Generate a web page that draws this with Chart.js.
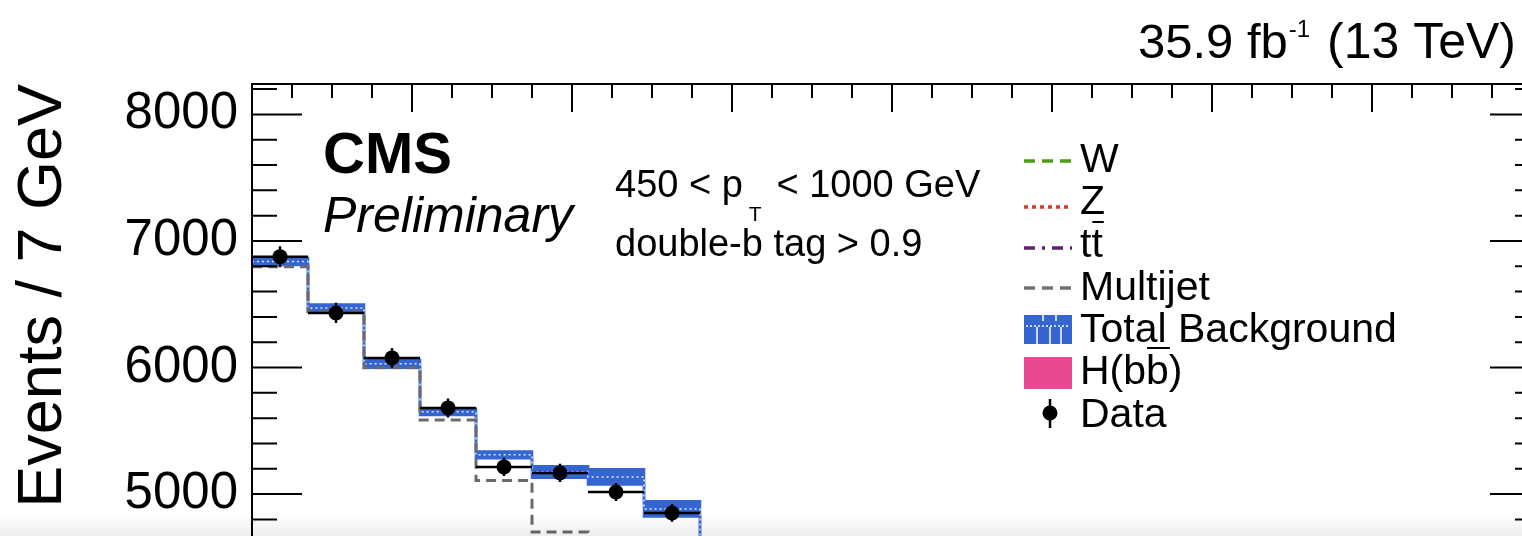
<!DOCTYPE html>
<html>
<head>
<meta charset="utf-8">
<script src="https://cdn.jsdelivr.net/npm/chart.js@4.4.1/dist/chart.umd.min.js"></script>
<style>
  html, body { margin: 0; padding: 0; background: #fff; overflow: hidden; }
  #wrap { position: relative; width: 1522px; height: 536px; overflow: hidden; }
  #chart { position: absolute; left: 0; top: 0; }
  #shade { position: absolute; left: 0; bottom: 0; width: 1522px; height: 22px;
           background: linear-gradient(rgba(0,0,0,0), rgba(0,0,0,0.07)); }
</style>
</head>
<body>
<div id="wrap">
  <canvas id="chart" width="1600" height="700"></canvas>
  <div id="shade"></div>
</div>
<script>
// soft-drop jet mass bins (GeV), 7 GeV wide
const binLow = [40, 47, 54, 61, 68, 75, 82, 89, 96];
const binWidth = 7;

// events per bin
const dataCounts = [6876, 6431, 6076, 5681, 5215, 5167, 5017, 4851, 4520];
const dataErr = [83, 80, 78, 75, 72, 72, 71, 70, 67];
const totalBkg = [6838, 6470, 6029, 5650, 5310, 5175, 5136, 4883, 4560];
const totalBkgErr = [28, 28, 30, 25, 27, 45, 60, 60, 55];
const multijet = [6797, 6440, 5998, 5586, 5107, 4700, 4560, 4400, 4200];

// axis
const yMin = 3800;
const yMax = 8240;
const yLabelStep = 1000;
const yMinorStep = 200;
const xMin = 40;
const xMax = 201;
const xMinorStep = 5;
const xMajorStep = 20;

const legendLabels = ['W', 'Z', 'tt', 'Multijet', 'Total Background', 'H(bb)', 'Data'];

const BLUE = '#3465d0';
const FONT = '"Liberation Sans", Arial, Helvetica, sans-serif';

const bkgUp = totalBkg.map((v, i) => v + totalBkgErr[i]);
const bkgDown = totalBkg.map((v, i) => v - totalBkgErr[i]);

// histogram points at bin edges, drawn with stepped lines
function steps(vals) {
  const pts = vals.map((v, i) => ({ x: binLow[i], y: v }));
  pts.push({ x: binLow[vals.length - 1] + binWidth, y: vals[vals.length - 1] });
  return pts;
}

function tickList(from, to, step) {
  const out = [];
  for (let v = Math.ceil(from / step) * step; v <= to; v += step) out.push({ value: v });
  return out;
}

const errorBars = {
  id: 'errorBars',
  afterDatasetsDraw(chart) {
    const { ctx, chartArea: a, scales: { x, y } } = chart;
    ctx.save();
    ctx.beginPath();
    ctx.rect(a.left, a.top, a.right - a.left, a.bottom - a.top);
    ctx.clip();
    ctx.strokeStyle = '#000';
    ctx.lineWidth = 2.5;
    ctx.beginPath();
    dataCounts.forEach((v, i) => {
      const py = y.getPixelForValue(v);
      const px = x.getPixelForValue(binLow[i] + binWidth / 2);
      ctx.moveTo(x.getPixelForValue(binLow[i]), py);
      ctx.lineTo(x.getPixelForValue(binLow[i] + binWidth), py);
      ctx.moveTo(px, y.getPixelForValue(v + dataErr[i]));
      ctx.lineTo(px, y.getPixelForValue(v - dataErr[i]));
    });
    ctx.stroke();
    ctx.restore();
  }
};

// ROOT-style frame with ticks pointing inwards
const frame = {
  id: 'frame',
  afterDraw(chart) {
    const { ctx, chartArea: a, scales: { x, y } } = chart;
    ctx.save();
    ctx.strokeStyle = '#000';
    ctx.lineWidth = 2;
    ctx.beginPath();
    y.ticks.forEach(t => {
      const py = y.getPixelForValue(t.value);
      const len = t.value % yLabelStep === 0 ? 50 : 25;
      ctx.moveTo(a.left, py); ctx.lineTo(a.left + len, py);
      ctx.moveTo(a.right, py); ctx.lineTo(a.right - len, py);
    });
    x.ticks.forEach(t => {
      if (t.value <= xMin || t.value >= xMax) return;
      const px = x.getPixelForValue(t.value);
      const len = t.value % xMajorStep === 0 ? 28 : 14;
      ctx.moveTo(px, a.top); ctx.lineTo(px, a.top + len);
      ctx.moveTo(px, a.bottom); ctx.lineTo(px, a.bottom - len);
    });
    ctx.stroke();
    ctx.strokeRect(a.left, a.top, a.right - a.left, a.bottom - a.top);
    ctx.restore();
  }
};

function text(ctx, s, px, py, font, align) {
  ctx.font = font;
  ctx.textAlign = align || 'left';
  ctx.textBaseline = 'alphabetic';
  ctx.fillText(s, px, py);
  return ctx.measureText(s).width;
}

// overline over one character of a string drawn at px
function overline(ctx, before, ch, px, py, font) {
  ctx.font = font;
  const x0 = px + ctx.measureText(before).width;
  const w = ctx.measureText(ch).width;
  ctx.beginPath();
  ctx.moveTo(x0 + 1, py);
  ctx.lineTo(x0 + w + 1, py);
  ctx.stroke();
}

const labels = {
  id: 'labels',
  afterDraw(chart) {
    const ctx = chart.ctx;
    ctx.save();
    ctx.fillStyle = '#000';
    ctx.strokeStyle = '#000';

    // luminosity
    let w = text(ctx, '35.9 fb', 1138, 58, `49px ${FONT}`);
    text(ctx, '-1', 1138 + w + 1, 37, `24px ${FONT}`);
    text(ctx, '(13 TeV)', 1327, 58, `50px ${FONT}`);

    text(ctx, 'CMS', 323, 173, `bold 58px ${FONT}`);
    text(ctx, 'Preliminary', 323, 232, `italic 50px ${FONT}`);

    w = text(ctx, '450 < p', 615, 197, `38px ${FONT}`);
    text(ctx, 'T', 615 + w + 6, 221, `21px ${FONT}`);
    text(ctx, ' < 1000 GeV', 615 + w + 23, 197, `38px ${FONT}`);
    text(ctx, 'double-b tag > 0.9', 615, 256, `38px ${FONT}`);

    // legend
    const lf = `41px ${FONT}`;
    const tx = 1080;
    const sx0 = 1024, sx1 = 1072;
    const rows = [157, 199, 242, 285, 327, 369, 412];
    ctx.lineWidth = 3.5;
    const sample = (color, dash, yy) => {
      ctx.save();
      ctx.strokeStyle = color;
      ctx.setLineDash(dash);
      ctx.beginPath();
      ctx.moveTo(sx0, yy);
      ctx.lineTo(sx1, yy);
      ctx.stroke();
      ctx.restore();
    };
    sample('#4b9e14', [11, 7], rows[0] + 4);
    sample('#d23a2e', [4, 4], rows[1] + 8);
    sample('#5f2070', [11, 7, 3, 7], rows[2] + 6);
    sample('#707070', [11, 7], rows[3] + 3);

    // total background box
    ctx.fillStyle = BLUE;
    ctx.fillRect(sx0, rows[4] - 12, sx1 - sx0, 29);
    ctx.save();
    ctx.strokeStyle = '#fff';
    ctx.lineWidth = 1.5;
    ctx.setLineDash([2, 2]);
    ctx.beginPath();
    ctx.moveTo(sx0 + 2, rows[4] - 1);
    ctx.lineTo(sx1 - 2, rows[4] - 1);
    ctx.stroke();
    ctx.setLineDash([]);
    ctx.beginPath();
    [1037, 1050, 1061].forEach(vx => { ctx.moveTo(vx, rows[4]); ctx.lineTo(vx, rows[4] + 17); });
    [1043, 1056].forEach(vx => { ctx.moveTo(vx, rows[4] - 12); ctx.lineTo(vx, rows[4] - 6); });
    ctx.stroke();
    ctx.restore();

    // H(bb) box
    ctx.fillStyle = '#e84a92';
    ctx.fillRect(sx0, rows[5] - 12, sx1 - sx0, 32);

    // data marker
    ctx.fillStyle = '#000';
    ctx.lineWidth = 2.5;
    ctx.beginPath();
    ctx.moveTo(1050, rows[6] - 13);
    ctx.lineTo(1050, rows[6] + 16);
    ctx.stroke();
    ctx.beginPath();
    ctx.arc(1050, rows[6] + 1, 7.5, 0, Math.PI * 2);
    ctx.fill();

    ctx.lineWidth = 2;
    legendLabels.forEach((s, i) => {
      text(ctx, s, tx, rows[i] + 15, lf);
    });
    overline(ctx, 't', 't', tx, rows[2] - 20, lf);
    overline(ctx, 'H(b', 'b', tx, rows[5] - 21, lf);

    ctx.restore();
  }
};

new Chart(document.getElementById('chart'), {
  type: 'line',
  data: {
    datasets: [
      { label: 'Total Background up', data: steps(bkgUp), stepped: true, borderColor: BLUE,
        backgroundColor: BLUE, borderWidth: 2.5, pointRadius: 0, fill: '+1', order: 4 },
      { label: 'Total Background down', data: steps(bkgDown), stepped: true, borderColor: BLUE,
        borderWidth: 2.5, pointRadius: 0, fill: false, order: 3 },
      { label: 'Total Background', data: steps(totalBkg), stepped: true, borderColor: 'rgba(255,255,255,0.85)',
        borderWidth: 1.5, borderDash: [2, 3], pointRadius: 0, fill: false, order: 2 },
      { label: 'Multijet', data: steps(multijet), stepped: true, borderColor: '#6b6b6b',
        borderWidth: 3, borderDash: [10, 6], pointRadius: 0, fill: false, order: 1 },
      { label: 'Data', data: dataCounts.map((v, i) => ({ x: binLow[i] + binWidth / 2, y: v })),
        showLine: false, pointRadius: 7.5, pointBackgroundColor: '#000', pointBorderColor: '#000',
        pointBorderWidth: 0, order: 0 }
    ]
  },
  options: {
    responsive: false,
    animation: false,
    devicePixelRatio: 1,
    layout: { padding: { left: 0, top: 84, right: 60, bottom: 54 } },
    plugins: { legend: { display: false }, tooltip: { enabled: false } },
    scales: {
      x: {
        type: 'linear', min: xMin, max: xMax,
        ticks: { display: false, autoSkip: false },
        grid: { display: false, drawTicks: false },
        border: { display: false },
        afterBuildTicks: s => { s.ticks = tickList(xMin, xMax, xMinorStep); },
        afterFit: s => { s.height = 0; }
      },
      y: {
        type: 'linear', min: yMin, max: yMax,
        ticks: {
          autoSkip: false, padding: 14, color: '#000',
          font: { family: FONT, size: 51 },
          callback: v => (v % yLabelStep === 0 ? String(v) : '')
        },
        grid: { display: false, drawTicks: false },
        border: { display: false },
        title: {
          display: true, text: 'Events / 7 GeV', align: 'end', color: '#000',
          font: { family: FONT, size: 63 }, padding: { top: 6, bottom: 0 }
        },
        afterBuildTicks: s => { s.ticks = tickList(yMin, yMax, yMinorStep); },
        afterFit: s => { s.width = 252; }
      }
    }
  },
  plugins: [errorBars, frame, labels]
});
</script>
</body>
</html>
